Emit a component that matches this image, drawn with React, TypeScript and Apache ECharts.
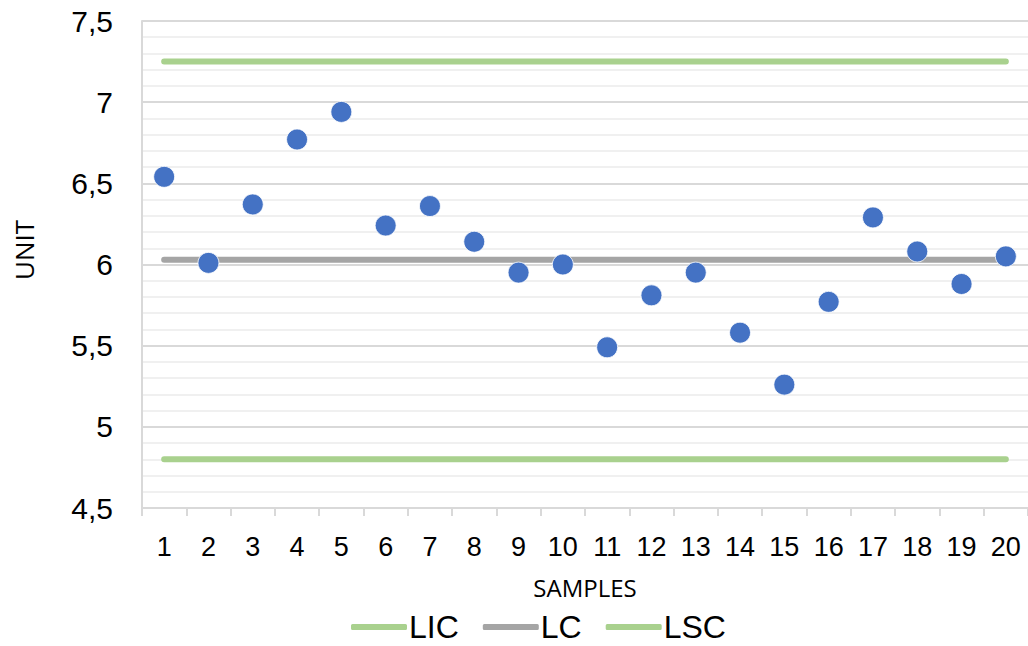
import React, { useEffect, useRef } from "react";
import * as echarts from "echarts";

const samples = ["1","2","3","4","5","6","7","8","9","10","11","12","13","14","15","16","17","18","19","20"];
const values = [6.54, 6.01, 6.37, 6.77, 6.94, 6.24, 6.36, 6.14, 5.95, 6.0, 5.49, 5.81, 5.95, 5.58, 5.26, 5.77, 6.29, 6.08, 5.88, 6.05];
const lic = 4.8;
const lc = 6.03;
const lsc = 7.25;
const yTicks = { min: 4.5, max: 7.5, interval: 0.5 };

export default function App() {
  const ref = useRef<HTMLDivElement>(null);
  useEffect(() => {
    const chart = echarts.init(ref.current!, null, { renderer: "svg" });
    const mk = (v: number) => samples.map(() => v);
    const lineStyle = (color: string) => ({ color, width: 6, cap: "round" as const });
    chart.setOption({
      animation: false,
      grid: { left: 142, right: 0, top: 21, bottom: 138, containLabel: false },
      legend: {
        data: ["LIC", "LC", "LSC"],
        top: 611,
        left: 351,
        padding: 0,
        icon: "roundRect",
        itemWidth: 56,
        itemHeight: 6,
        itemGap: 24,
        textStyle: { fontFamily: "Liberation Sans", fontSize: 32, lineHeight: 32, color: "#000", padding: [0, 0, 0, -3] },
      },
      graphic: [
        {
          type: "text",
          x: 24,
          y: 250,
          rotation: Math.PI / 2,
          style: {
            text: "UNIT",
            fontFamily: "Open Sans",
            fontSize: 26,
            fill: "#000",
            align: "center",
            verticalAlign: "middle",
          },
        },
      ],
      xAxis: {
        type: "category",
        data: samples,
        boundaryGap: true,
        name: "SAMPLES",
        nameLocation: "middle",
        nameGap: 67,
        nameTextStyle: { fontFamily: "Open Sans", fontSize: 24, color: "#000" },
        axisLine: { lineStyle: { color: "#d9d9d9", width: 2 } },
        axisTick: { show: true, length: 8, lineStyle: { color: "#d9d9d9", width: 2 } },
        axisLabel: { fontFamily: "Liberation Sans", fontSize: 27, color: "#000", margin: 25 },
        splitLine: { show: false },
      },
      yAxis: {
        type: "value",
        min: yTicks.min,
        max: yTicks.max,
        interval: yTicks.interval,
        axisLine: { show: true, lineStyle: { color: "#d9d9d9", width: 2 } },
        axisTick: { show: false },
        axisLabel: {
          fontFamily: "Liberation Sans",
          fontSize: 30,
          color: "#000",
          margin: 29,
          formatter: (v: number) => String(v).replace(".", ","),
        },
        splitLine: { show: true, lineStyle: { color: "#d9d9d9", width: 2 } },
        minorTick: { show: false, splitNumber: 5 },
        minorSplitLine: { show: true, lineStyle: { color: "#f0f0f0", width: 2 } },
      },
      series: [
        { name: "LIC", type: "line", data: mk(lic), symbol: "none", lineStyle: lineStyle("#a9d18e"), itemStyle: { color: "#a9d18e" }, z: 2 },
        { name: "LC", type: "line", data: mk(lc), symbol: "none", lineStyle: lineStyle("#a5a5a5"), itemStyle: { color: "#a5a5a5" }, z: 2 },
        { name: "LSC", type: "line", data: mk(lsc), symbol: "none", lineStyle: lineStyle("#a9d18e"), itemStyle: { color: "#a9d18e" }, z: 2 },
        {
          name: "Samples",
          type: "scatter",
          data: values,
          symbol: "circle",
          symbolSize: 21,
          itemStyle: { color: "#4472c4", opacity: 1, borderColor: "#ffffff", borderWidth: 0.8 },
          z: 5,
        },
      ],
    });
    return () => chart.dispose();
  }, []);
  return <div ref={ref} style={{ position: "absolute", left: 0, top: 0, width: 1028, height: 646, background: "#fff" }} />;
}
